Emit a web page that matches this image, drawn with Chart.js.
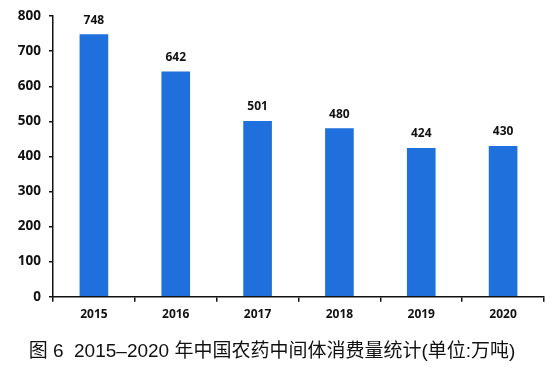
<!DOCTYPE html>
<html>
<head>
<meta charset="utf-8">
<script src="https://cdn.jsdelivr.net/npm/chart.js@4/dist/chart.umd.min.js"></script>
<style>
  html, body { margin: 0; padding: 0; background: #fff; }
  #wrap { width: 551px; height: 367px; position: relative; }
</style>
</head>
<body>
<div id="wrap"><canvas id="consumptionChart"></canvas></div>
<script>
const years = ["2015", "2016", "2017", "2018", "2019", "2020"];
const consumption = [748, 642, 501, 480, 424, 430];
const yTicks = [0, 100, 200, 300, 400, 500, 600, 700, 800];
const captionText = "图 6  2015–2020 年中国农药中间体消费量统计(单位:万吨)";

// value labels above each bar
const barLabels = {
    id: "barLabels",
    afterDatasetsDraw(chart) {
        const ctx = chart.ctx;
        const meta = chart.getDatasetMeta(0);
        ctx.save();
        ctx.font = "bold 12px 'Open Sans', 'DejaVu Sans', sans-serif";
        ctx.fillStyle = "#111";
        ctx.textAlign = "center";
        ctx.textBaseline = "bottom";
        meta.data.forEach(function (bar, i) {
            ctx.fillText(consumption[i], bar.x, bar.y - 8);
        });
        ctx.restore();
    }
};

new Chart(document.getElementById("consumptionChart"), {
    type: "bar",
    data: {
        labels: years,
        datasets: [{
            data: consumption,
            backgroundColor: "#1f6fdc",
            barPercentage: 0.35,
            categoryPercentage: 1.0
        }]
    },
    options: {
        responsive: true,
        maintainAspectRatio: false,
        animation: false,
        layout: { padding: { top: 10, right: 7, bottom: 5, left: 0 } },
        plugins: {
            legend: { display: false },
            tooltip: { enabled: false },
            title: {
                display: true,
                position: "bottom",
                text: captionText,
                color: "#111",
                font: { family: "'Liberation Sans', 'Noto Sans CJK SC', sans-serif", size: 19, weight: "normal", lineHeight: 1.1 },
                padding: { top: 13, bottom: 0 }
            }
        },
        scales: {
            x: {
                offset: true,
                border: { color: "#111", width: 1.5 },
                grid: { drawOnChartArea: false, offset: true, tickLength: 5, color: "#111", lineWidth: 1.5 },
                ticks: {
                    color: "#111",
                    padding: 6,
                    font: { family: "'Open Sans', 'DejaVu Sans', sans-serif", size: 12, weight: "bold" }
                }
            },
            y: {
                min: 0,
                max: 800,
                afterBuildTicks: function (scale) {
                    scale.ticks = yTicks.map(function (v) { return { value: v }; });
                },
                afterFit: function (scale) { scale.width = 53; },
                border: { color: "#111", width: 1.5 },
                grid: { drawOnChartArea: false, tickLength: 4, color: "#111", lineWidth: 1.5 },
                ticks: {
                    color: "#111",
                    padding: 8,
                    font: { family: "'Open Sans', 'DejaVu Sans', sans-serif", size: 13.5, weight: "bold" }
                }
            }
        }
    },
    plugins: [barLabels]
});
</script>
</body>
</html>
